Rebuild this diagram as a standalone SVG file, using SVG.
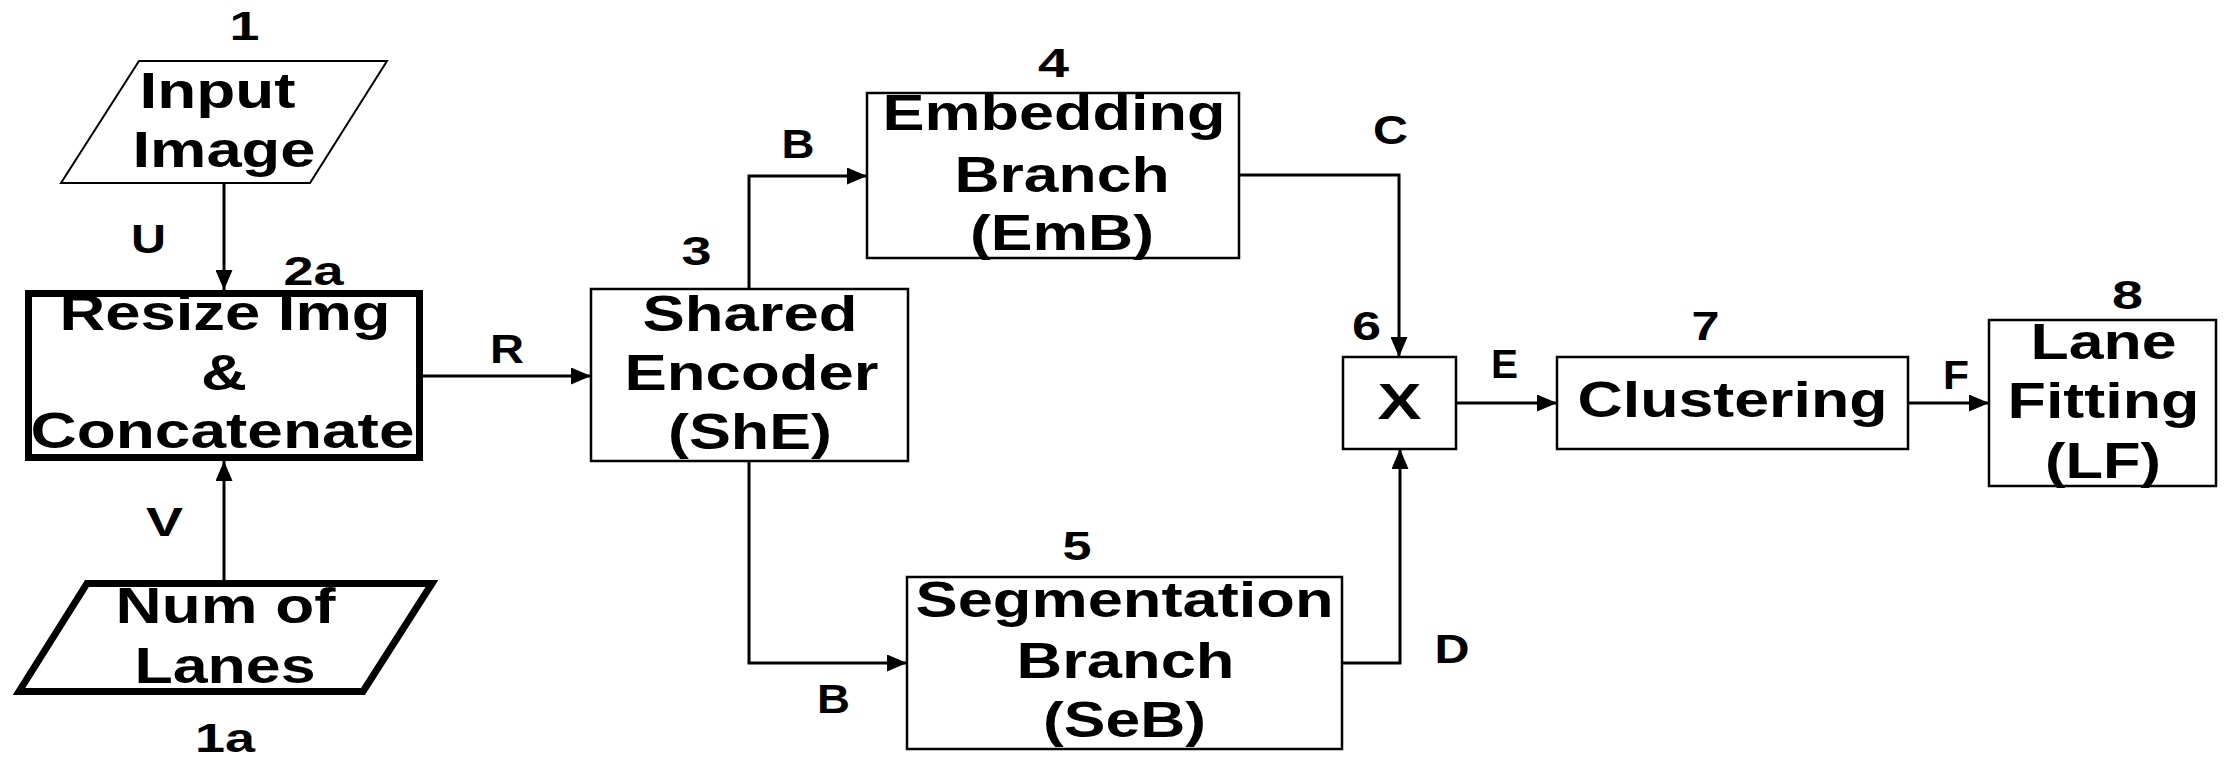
<svg xmlns="http://www.w3.org/2000/svg" width="2226" height="760" viewBox="0 0 2226 760">
  <defs>
    <style>
      .box { fill: #ffffff; stroke: #000000; stroke-width: 2.5; }
      .thick { fill: #ffffff; stroke: #000000; stroke-width: 7; stroke-linejoin: miter; }
      .thin { fill: #ffffff; stroke: #000000; stroke-width: 2; }
      .wire { fill: none; stroke: #000000; stroke-width: 3; }
      .t { font-family: "Liberation Sans", Arial, sans-serif; font-weight: bold; font-size: 50px; fill: #000000; text-anchor: middle; }
      .lbl { font-family: "Liberation Sans", Arial, sans-serif; font-weight: bold; font-size: 41px; fill: #000000; text-anchor: middle; }
    </style>
    <marker id="arrow" markerUnits="userSpaceOnUse" markerWidth="20" markerHeight="17" refX="20" refY="8.5" orient="auto">
      <path d="M0,0 L20,8.5 L0,17 Z" fill="#000000"/>
    </marker>
  </defs>

  <rect width="2226" height="760" fill="#ffffff"/>

  <!-- connectors -->
  <g id="connectors">
    <path class="wire" d="M224,183 V290" marker-end="url(#arrow)"/>
    <path class="wire" d="M224,580 V461" marker-end="url(#arrow)"/>
    <path class="wire" d="M423,376 H591" marker-end="url(#arrow)"/>
    <path class="wire" d="M749,289 V176 H867" marker-end="url(#arrow)"/>
    <path class="wire" d="M749,461 V663 H907" marker-end="url(#arrow)"/>
    <path class="wire" d="M1239,175 H1399 V357" marker-end="url(#arrow)"/>
    <path class="wire" d="M1342,663 H1400 V449" marker-end="url(#arrow)"/>
    <path class="wire" d="M1456,403 H1557" marker-end="url(#arrow)"/>
    <path class="wire" d="M1908,403 H1989" marker-end="url(#arrow)"/>
  </g>

  <!-- connector labels -->
  <g id="edge-labels">
    <text class="lbl" x="148.5" y="253" textLength="35" lengthAdjust="spacingAndGlyphs">U</text>
    <text class="lbl" x="164.5" y="536" textLength="37" lengthAdjust="spacingAndGlyphs">V</text>
    <text class="lbl" x="507" y="363" textLength="34" lengthAdjust="spacingAndGlyphs">R</text>
    <text class="lbl" x="798" y="158" textLength="33" lengthAdjust="spacingAndGlyphs">B</text>
    <text class="lbl" x="833.5" y="713" textLength="33" lengthAdjust="spacingAndGlyphs">B</text>
    <text class="lbl" x="1390.5" y="144" textLength="35" lengthAdjust="spacingAndGlyphs">C</text>
    <text class="lbl" x="1452" y="663" textLength="35" lengthAdjust="spacingAndGlyphs">D</text>
    <text class="lbl" x="1504.5" y="378" textLength="27" lengthAdjust="spacingAndGlyphs">E</text>
    <text class="lbl" x="1956" y="389" textLength="26" lengthAdjust="spacingAndGlyphs">F</text>
  </g>

  <!-- 1: input image -->
  <g id="node-input-image">
    <polygon class="thin" points="139,61 387,61 310,183 61,183"/>
    <text class="t" x="217.5" y="108" textLength="156" lengthAdjust="spacingAndGlyphs">Input</text>
    <text class="t" x="224" y="167" textLength="183" lengthAdjust="spacingAndGlyphs">Image</text>
    <text class="lbl" x="244.5" y="40" textLength="30" lengthAdjust="spacingAndGlyphs">1</text>
  </g>

  <!-- 1a: number of lanes -->
  <g id="node-num-lanes">
    <polygon class="thick" points="87,583.5 432,583.5 363,691.5 19,691.5"/>
    <text class="t" x="225.5" y="623" textLength="220" lengthAdjust="spacingAndGlyphs">Num of</text>
    <text class="t" x="225" y="683" textLength="181" lengthAdjust="spacingAndGlyphs">Lanes</text>
    <text class="lbl" x="225" y="752" textLength="60" lengthAdjust="spacingAndGlyphs">1a</text>
  </g>

  <!-- 2a: resize and concatenate -->
  <g id="node-resize">
    <rect class="thick" x="28.5" y="293.5" width="391" height="164"/>
    <text class="t" x="225" y="330" textLength="331" lengthAdjust="spacingAndGlyphs">Resize Img</text>
    <text class="t" x="224" y="390" textLength="46" lengthAdjust="spacingAndGlyphs">&amp;</text>
    <text class="t" x="222.5" y="448" textLength="384" lengthAdjust="spacingAndGlyphs">Concatenate</text>
    <text class="lbl" x="313.5" y="285" textLength="60" lengthAdjust="spacingAndGlyphs">2a</text>
  </g>

  <!-- 3: shared encoder -->
  <g id="node-shared-encoder">
    <rect class="box" x="591" y="289" width="317" height="172"/>
    <text class="t" x="750" y="331" textLength="215" lengthAdjust="spacingAndGlyphs">Shared</text>
    <text class="t" x="751.5" y="390" textLength="254" lengthAdjust="spacingAndGlyphs">Encoder</text>
    <text class="t" x="750" y="449" textLength="164" lengthAdjust="spacingAndGlyphs">(ShE)</text>
    <text class="lbl" x="696.5" y="265" textLength="30" lengthAdjust="spacingAndGlyphs">3</text>
  </g>

  <!-- 4: embedding branch -->
  <g id="node-embedding">
    <rect class="box" x="867" y="93" width="372" height="165"/>
    <text class="t" x="1054" y="130" textLength="343" lengthAdjust="spacingAndGlyphs">Embedding</text>
    <text class="t" x="1062" y="192" textLength="215" lengthAdjust="spacingAndGlyphs">Branch</text>
    <text class="t" x="1062" y="250" textLength="184" lengthAdjust="spacingAndGlyphs">(EmB)</text>
    <text class="lbl" x="1053.5" y="77" textLength="31" lengthAdjust="spacingAndGlyphs">4</text>
  </g>

  <!-- 5: segmentation branch -->
  <g id="node-segmentation">
    <rect class="box" x="907" y="577" width="435" height="172"/>
    <text class="t" x="1124.5" y="617" textLength="418" lengthAdjust="spacingAndGlyphs">Segmentation</text>
    <text class="t" x="1125.5" y="678" textLength="218" lengthAdjust="spacingAndGlyphs">Branch</text>
    <text class="t" x="1124.5" y="737" textLength="163" lengthAdjust="spacingAndGlyphs">(SeB)</text>
    <text class="lbl" x="1077" y="560" textLength="29" lengthAdjust="spacingAndGlyphs">5</text>
  </g>

  <!-- 6: multiply -->
  <g id="node-multiply">
    <rect class="box" x="1343" y="357" width="113" height="92"/>
    <text class="t" x="1399.5" y="419" textLength="44" lengthAdjust="spacingAndGlyphs">X</text>
    <text class="lbl" x="1366.5" y="340" textLength="29" lengthAdjust="spacingAndGlyphs">6</text>
  </g>

  <!-- 7: clustering -->
  <g id="node-clustering">
    <rect class="box" x="1557" y="357" width="351" height="92"/>
    <text class="t" x="1732.5" y="417" textLength="310" lengthAdjust="spacingAndGlyphs">Clustering</text>
    <text class="lbl" x="1705.5" y="340" textLength="28" lengthAdjust="spacingAndGlyphs">7</text>
  </g>

  <!-- 8: lane fitting -->
  <g id="node-lane-fitting">
    <rect class="box" x="1989" y="320" width="227" height="166"/>
    <text class="t" x="2103.5" y="359" textLength="146" lengthAdjust="spacingAndGlyphs">Lane</text>
    <text class="t" x="2103.5" y="418" textLength="192" lengthAdjust="spacingAndGlyphs">Fitting</text>
    <text class="t" x="2103" y="478" textLength="116" lengthAdjust="spacingAndGlyphs">(LF)</text>
    <text class="lbl" x="2127.5" y="309" textLength="31" lengthAdjust="spacingAndGlyphs">8</text>
  </g>
</svg>
